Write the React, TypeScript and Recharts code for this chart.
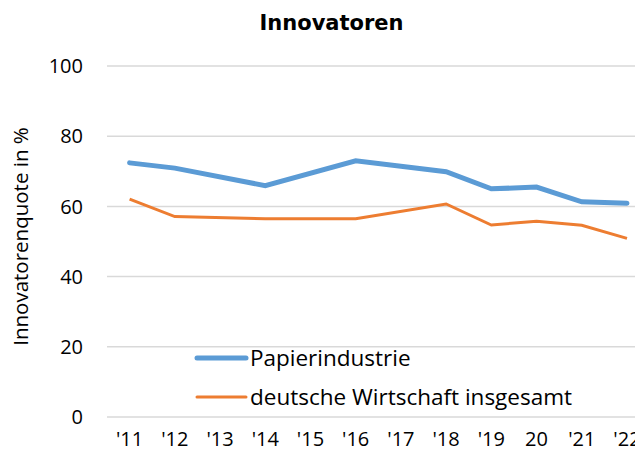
import React from 'react';
import { LineChart, Line, XAxis, YAxis, CartesianGrid } from 'recharts';

const years = ["'11", "'12", "'13", "'14", "'15", "'16", "'17", "'18", "'19", '20', "'21", "'22"];
const papier = [72.4, 70.9, null, 65.9, null, 73.0, null, 69.9, 65.0, 65.5, 61.3, 60.9];
const wirtschaft = [62.1, 57.1, null, 56.5, null, 56.5, null, 60.7, 54.7, 55.8, 54.6, 50.9];
const yTicks = [0, 20, 40, 60, 80, 100];

const data = years.map((y, i) => ({ i, year: y, papier: papier[i], wirtschaft: wirtschaft[i] }));

const font = '"Open Sans", sans-serif';

function LegendBox() {
    const rows = [
        { label: 'Papierindustrie', color: '#5B9BD5', w: 5 },
        { label: 'deutsche Wirtschaft insgesamt', color: '#ED7D31', w: 3 },
    ];
    return (
        <div style={{ position: 'absolute', left: 193, top: 338, fontFamily: font, fontSize: 22.5, color: '#000' }}>
            {rows.map((r) => (
                <div key={r.label} style={{ display: 'flex', alignItems: 'center', height: 39 }}>
                    <svg width={56} height={10}>
                        <line x1={4} y1={5} x2={53} y2={5} stroke={r.color} strokeWidth={r.w} strokeLinecap="round" />
                    </svg>
                    <span style={{ marginLeft: 1 }}>{r.label}</span>
                </div>
            ))}
        </div>
    );
}

export default function App() {
    return (
        <div style={{ position: 'relative', width: 643, height: 456, margin: -8, background: '#fff', overflow: 'hidden' }}>
            <div style={{ position: 'absolute', top: 11, left: 10, width: 643, textAlign: 'center', fontFamily: '"DejaVu Sans", sans-serif', fontWeight: 'bold', fontSize: 21, lineHeight: '24px', zIndex: 2 }}>
                Innovatoren
            </div>
            <LineChart width={643} height={456} data={data} margin={{ top: 66, right: 0, bottom: 0, left: 0 }}>
                <CartesianGrid vertical={false} stroke="#D9D9D9" strokeWidth={1.5} />
                <XAxis
                    type="number"
                    dataKey="i"
                    domain={[-0.5, 11.354]}
                    ticks={years.map((_, i) => i)}
                    tickFormatter={(v: number) => years[v]}
                    interval={0}
                    allowDataOverflow
                    axisLine={false}
                    tickLine={false}
                    tickSize={0}
                    tickMargin={15}
                    height={39}
                    tick={{ fill: '#000', fontSize: 20, fontFamily: font }}
                />
                <YAxis
                    domain={[0, 100]}
                    ticks={yTicks}
                    width={107}
                    axisLine={false}
                    tickLine={false}
                    tickSize={0}
                    tickMargin={24}
                    tick={{ fill: '#000', fontSize: 20, fontFamily: font }}
                    label={{ value: 'Innovatorenquote in %', angle: -90, position: 'insideLeft', offset: 21, dy: -5, style: { textAnchor: 'middle', fontSize: 20.5, fontFamily: font, fill: '#000' } }}
                />
                <Line type="linear" dataKey="papier" stroke="#5B9BD5" strokeWidth={5} strokeLinecap="round" dot={false} connectNulls isAnimationActive={false} />
                <Line type="linear" dataKey="wirtschaft" stroke="#ED7D31" strokeWidth={3} dot={false} connectNulls isAnimationActive={false} />
            </LineChart>
            <LegendBox />
        </div>
    );
}
